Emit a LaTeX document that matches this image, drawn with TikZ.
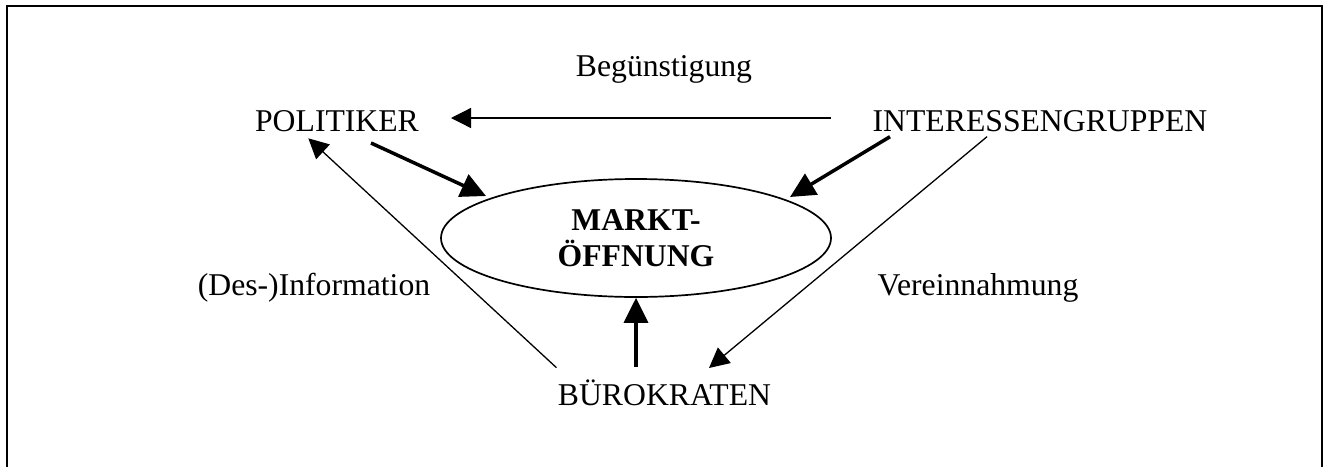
\documentclass[tikz,border=0pt]{standalone}
\usepackage{fontspec}
\setmainfont{Liberation Serif}
\usetikzlibrary{arrows.meta,calc,shapes.geometric}
\begin{document}
\begin{tikzpicture}[x=0.5pt,y=-0.5pt,
  txt/.style={inner sep=0pt, anchor=base, font=\fontsize{15.85}{17.75}\selectfont},
  thinarrow/.style={line width=0.65pt, -{Triangle[length=10pt,width=10pt]}},
  thickarrow/.style={line width=1.75pt, -{Triangle[length=12.5pt,width=12pt]}},
  frameline/.style={line width=1pt}]
\useasboundingbox (0,0) rectangle (1323,467);
% open frame around the diagram
\draw[frameline] (7,467) -- (7,6) -- (1321.5,6) -- (1321.5,467);

% central ellipse
\node[ellipse, draw, line width=0.85pt, minimum width=195pt, minimum height=59pt,
      inner sep=0pt, align=center,
      font=\bfseries\fontsize{15.85}{17.75}\selectfont] (mk) at (636,238) {MARKT-\\ÖFFNUNG};

% actors and labels
\node[txt] (beg) at (664,76) {Begünstigung};
\node[txt] (pol) at (337,131) {POLITIKER};
\node[txt] (ig) at (1040,131) {INTERESSENGRUPPEN};
\node[txt] (des) at (314,295) {(Des-)Information};
\node[txt] (ver) at (978,295) {Vereinnahmung};
\node[txt] (bur) at (664.5,405.7) {BÜROKRATEN};

% relations between the actors
\draw[thinarrow] ($(ig.base)+(-209,-13)$) -- ($(pol.base)+(114,-13)$);
\draw[thinarrow] ($(ig.base)+(-53,5.7)$) -- ($(bur.base)+(44.5,-37.7)$);
\draw[thinarrow] ($(bur.base)+(-108,-38)$) -- ($(pol.base)+(-28.7,7.3)$);

% influence on the market opening
\draw[thickarrow] ($(pol.base)+(34,12)$) -- ($(mk.center)+(-150,-42)$);
\draw[thickarrow] ($(ig.base)+(-150,5.7)$) -- ($(mk.center)+(154,-41)$);
\draw[thickarrow] ($(bur.base)+(-28.5,-38.7)$) -- (mk.south);
\end{tikzpicture}
\end{document}
